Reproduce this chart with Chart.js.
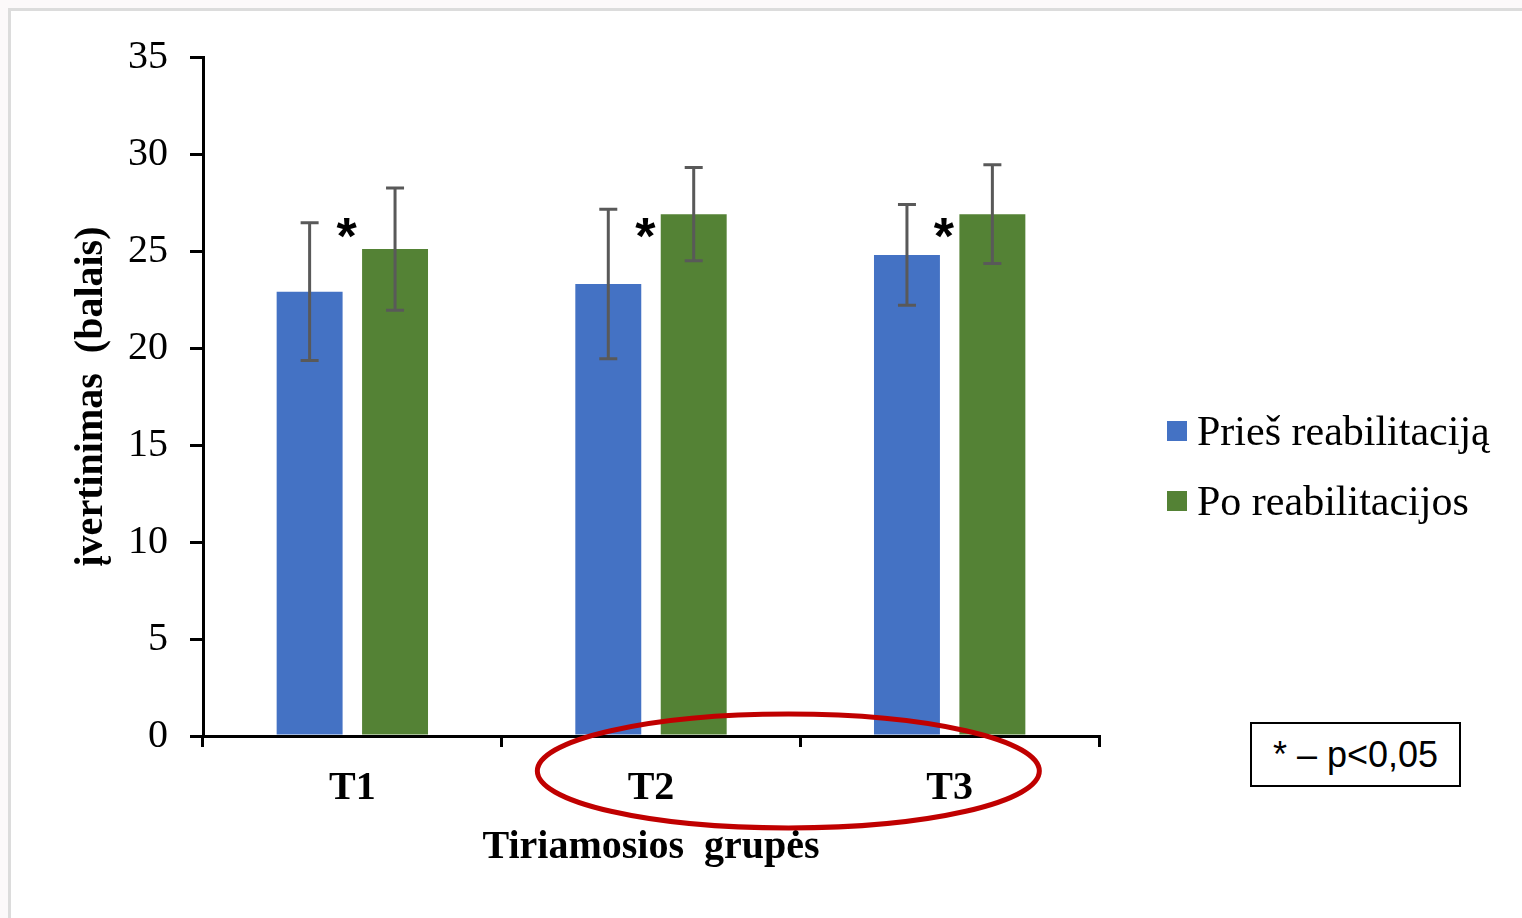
<!DOCTYPE html>
<html>
<head>
<meta charset="utf-8">
<script src="https://cdn.jsdelivr.net/npm/chart.js@4.4.0/dist/chart.umd.min.js"></script>
<style>
  html, body { margin: 0; padding: 0; overflow: hidden; background: #fcf9fa; }
  #frame {
    position: absolute; left: 8px; top: 8px; width: 1530px; height: 930px;
    border-left: 3px solid #dcdcdc; border-top: 3px solid #dcdcdc; background: #fff;
  }
  #grafico { position: absolute; left: 0; top: 0; }
  #legenda {
    position: absolute; left: 1167px; top: 396px;
    font: 42px 'Liberation Serif', 'Times New Roman', serif; color: #000;
  }
  #legenda .eil { height: 70px; display: flex; align-items: center; white-space: nowrap; }
  #legenda .dez { width: 20px; height: 20px; margin-right: 10px; display: inline-block; }
  #nota {
    position: absolute; left: 1250px; top: 722px; width: 207px; height: 61px;
    border: 2px solid #000; background: #fff;
    font: 36px 'Liberation Sans', Arial, sans-serif; color: #000;
    display: flex; align-items: center; justify-content: center;
  }
</style>
</head>
<body>
<div id="frame">
  <canvas id="grafico" width="1511" height="907"></canvas>
</div>
<div id="legenda"></div>
<div id="nota">* – p&lt;0,05</div>
<script>
const grupes = ['T1', 'T2', 'T3'];
const pries = [22.9, 23.3, 24.8];
const priesSd = [3.55, 3.85, 2.6];
const po = [25.1, 26.9, 26.9];
const poSd = [3.15, 2.4, 2.55];
const reiksmingas = [true, true, true];
const yTicks = [0, 5, 10, 15, 20, 25, 30, 35];

const serif = "'Liberation Serif', 'Times New Roman', serif";

// klaidu stulpeliai + zvaigzdutes + raudona elipse
const papildomai = {
  id: 'papildomai',
  afterDatasetsDraw(chart) {
    const ctx = chart.ctx;
    const y = chart.scales.y;
    const sds = [priesSd, poSd];
    ctx.save();
    ctx.strokeStyle = '#595959';
    ctx.lineWidth = 3;
    chart.data.datasets.forEach((ds, i) => {
      const meta = chart.getDatasetMeta(i);
      meta.data.forEach((bar, j) => {
        const v = ds.data[j];
        const top = y.getPixelForValue(v + sds[i][j]);
        const bot = y.getPixelForValue(v - sds[i][j]);
        ctx.beginPath();
        ctx.moveTo(bar.x, top); ctx.lineTo(bar.x, bot);
        ctx.moveTo(bar.x - 9, top); ctx.lineTo(bar.x + 9, top);
        ctx.moveTo(bar.x - 9, bot); ctx.lineTo(bar.x + 9, bot);
        ctx.stroke();
      });
    });

    ctx.fillStyle = '#000';
    ctx.font = "bold 52px 'Liberation Sans', Arial, sans-serif";
    ctx.textAlign = 'center';
    ctx.textBaseline = 'alphabetic';
    const blue = chart.getDatasetMeta(0).data;
    reiksmingas.forEach((s, j) => {
      if (!s) return;
      const b = blue[j];
      ctx.fillText('*', b.x + b.width / 2 + 4, y.getPixelForValue(26.05) + 23);
    });
    ctx.restore();
  },
  afterDraw(chart) {
    const ctx = chart.ctx;
    const x = chart.scales.x;
    const cx = (x.getPixelForTick(1) + x.getPixelForTick(2)) / 2 - 12;
    const cy = chart.chartArea.bottom + 35;
    ctx.save();
    ctx.strokeStyle = '#c00000';
    ctx.lineWidth = 5;
    ctx.beginPath();
    ctx.ellipse(cx, cy, 251, 57, 0, 0, Math.PI * 2);
    ctx.stroke();
    ctx.restore();
  }
};

const chart = new Chart(document.getElementById('grafico'), {
  type: 'bar',
  data: {
    labels: grupes,
    datasets: [
      { label: 'Prieš reabilitaciją', data: pries, backgroundColor: '#4472c4', borderWidth: 0 },
      { label: 'Po reabilitacijos', data: po, backgroundColor: '#548235', borderWidth: 0 }
    ]
  },
  options: {
    responsive: false,
    animation: false,
    events: [],
    categoryPercentage: 0.572,
    barPercentage: 0.772,
    layout: { padding: { left: 45, top: 44, bottom: 35, right: 423 } },
    scales: {
      x: {
        afterFit: s => { s.height = 147; },
        grid: { drawOnChartArea: false, color: '#000', lineWidth: 3, tickLength: 11 },
        border: { color: '#000', width: 3 },
        ticks: { color: '#000', padding: 18, font: { family: serif, size: 40, weight: 'bold' } },
        title: {
          display: true, text: 'Tiriamosios  grupės', color: '#000',
          padding: 11, font: { family: serif, size: 40, weight: 'bold' }
        }
      },
      y: {
        min: 0, max: 35,
        afterFit: s => { s.width = 147; },
        afterBuildTicks: s => { s.ticks = yTicks.map(v => ({ value: v })); },
        grid: { drawOnChartArea: false, color: '#000', lineWidth: 3, tickLength: 13 },
        border: { color: '#000', width: 3 },
        ticks: { color: '#000', padding: 22, font: { family: serif, size: 40 } },
        title: {
          display: true, text: 'įvertinimas  (balais)', color: '#000',
          padding: 12, font: { family: serif, size: 40, weight: 'bold' }
        }
      }
    },
    plugins: {
      legend: { display: false },
      tooltip: { enabled: false }
    }
  },
  plugins: [papildomai]
});

// legenda is duomenu rinkiniu
const legenda = document.getElementById('legenda');
chart.data.datasets.forEach(ds => {
  const eil = document.createElement('div');
  eil.className = 'eil';
  eil.innerHTML = `<span class="dez" style="background:${ds.backgroundColor}"></span>${ds.label}`;
  legenda.appendChild(eil);
});
</script>
</body>
</html>
